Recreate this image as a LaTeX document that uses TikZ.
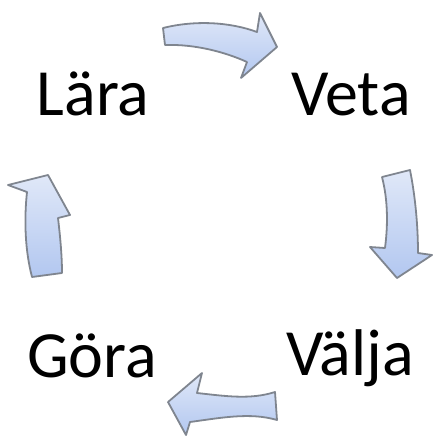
\documentclass[tikz,border=0pt]{standalone}
\usepackage{fontspec}
\setmainfont{Carlito}
\definecolor{arrtop}{HTML}{E0E8F8}
\definecolor{arrbot}{HTML}{B2C7F0}
\definecolor{arredge}{HTML}{7F858F}
\tikzset{
  arrowfill/.style={top color=arrtop, bottom color=arrbot},
  arrowline/.style={draw=arredge, line width=1.8pt, line join=round},
  word/.style={anchor=base, inner sep=0pt, font=\fontsize{66}{70}\selectfont}
}
\def\arrTop{(163,-28) .. controls (195,-20) and (230,-22) .. (257,-32) -- (260,-13) -- (277,-47) -- (241,-78) -- (247,-62) .. controls (225,-52) and (195,-44) .. (165,-45) -- cycle}
\def\arrRight{(382,-177) -- (410,-170) .. controls (416,-200) and (418,-230) .. (418,-253) -- (432,-255) -- (397,-278) -- (370,-247) -- (385,-248) .. controls (388,-225) and (388,-200) .. (382,-177) -- cycle}
\def\arrBottom{(275,-392) .. controls (250,-400) and (225,-396) .. (197,-393) -- (202,-373) -- (168,-402) -- (186,-435) -- (190,-422) .. controls (220,-418) and (250,-412) .. (277,-420) -- cycle}
\def\arrLeft{(32,-277) .. controls (25,-250) and (24,-220) .. (27,-192) -- (8,-185) -- (48,-175) -- (70,-215) -- (58,-218) .. controls (60,-235) and (62,-255) .. (62,-273) -- cycle}
\begin{document}
\begin{tikzpicture}[x=1pt,y=1pt]
\useasboundingbox (0,0) rectangle (434,-437);
\node[word] (lara) at (93,-115) {Lära};
\node[word] (veta) at (351,-115) {Veta};
\node[word] (gora) at (92,-377) {Göra};
\node[word] (valja) at (350,-375) {Välja};
\shade[arrowfill] \arrTop;
\draw[arrowline] \arrTop;
\shade[arrowfill] \arrRight;
\draw[arrowline] \arrRight;
\shade[arrowfill] \arrBottom;
\draw[arrowline] \arrBottom;
\shade[arrowfill] \arrLeft;
\draw[arrowline] \arrLeft;
\end{tikzpicture}
\end{document}
